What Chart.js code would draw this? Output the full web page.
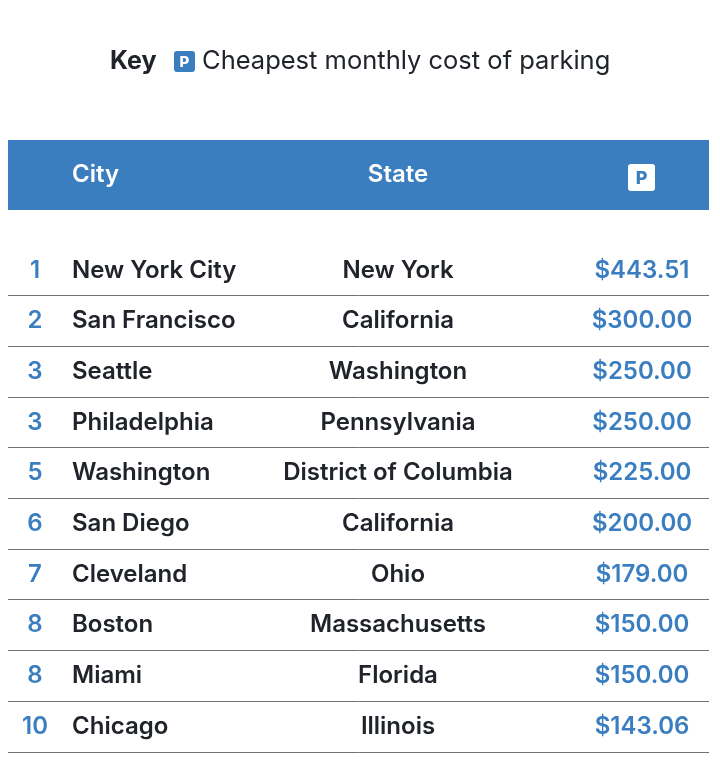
<!DOCTYPE html>
<html>
<head>
<meta charset="utf-8">
<title>Cheapest monthly cost of parking</title>
<script src="https://cdn.jsdelivr.net/npm/chart.js@4"></script>
<style>
  html, body { margin: 0; padding: 0; background: #fff; }
  #wrap { width: 720px; height: 760px; }
</style>
</head>
<body>
<div id="wrap"><canvas id="parking-table"></canvas></div>
<script>
const ranks = ['1', '2', '3', '3', '5', '6', '7', '8', '8', '10'];
const cities = ['New York City', 'San Francisco', 'Seattle', 'Philadelphia', 'Washington',
  'San Diego', 'Cleveland', 'Boston', 'Miami', 'Chicago'];
const states = ['New York', 'California', 'Washington', 'Pennsylvania', 'District of Columbia',
  'California', 'Ohio', 'Massachusetts', 'Florida', 'Illinois'];
const costs = [443.51, 300.00, 250.00, 250.00, 225.00, 200.00, 179.00, 150.00, 150.00, 143.06];
const headers = ['City', 'State'];
const keyTitle = 'Key';
const keyText = 'Cheapest monthly cost of parking';
const iconLetter = 'P';

const BLUE = '#3b7ec0';
const INK = '#20242a';
const FONT = 'Inter, "Noto Sans", sans-serif';

// column anchors, in x scale units (same as px from the table's left edge)
const colX = { rank: 27, city: 64, state: 390, cost: 634 };

function column(name, texts, align, color) {
  return {
    label: name,
    data: cities.map(c => ({ x: colX[name], y: c })),
    texts: texts,
    align: align,
    textColor: color,
    pointRadius: 0,
    showLine: false
  };
}

function parkingIcon(ctx, x, y, size, bg, fg, fontSize) {
  ctx.fillStyle = bg;
  ctx.beginPath();
  ctx.roundRect(x, y, size, size, 3);
  ctx.fill();
  ctx.fillStyle = fg;
  ctx.font = '800 ' + fontSize + 'px ' + FONT;
  ctx.textAlign = 'center';
  ctx.textBaseline = 'middle';
  ctx.fillText(iconLetter, x + size / 2, y + size / 2 + 1);
}

const tablePlugin = {
  id: 'tablePlugin',
  afterDraw(chart) {
    const ctx = chart.ctx;
    const xs = chart.scales.x;
    ctx.save();

    // key line
    ctx.fillStyle = INK;
    ctx.textBaseline = 'middle';
    ctx.textAlign = 'left';
    ctx.font = '700 25px ' + FONT;
    ctx.fillText(keyTitle, 110, 61);
    parkingIcon(ctx, 174, 51, 21, BLUE, '#fff', 15);
    ctx.fillStyle = INK;
    ctx.textAlign = 'left';
    ctx.font = '400 25.5px ' + FONT;
    ctx.fillText(keyText, 202, 61);

    // header band
    ctx.fillStyle = BLUE;
    ctx.fillRect(xs.left, 140, xs.right - xs.left, 70);
    ctx.fillStyle = '#fff';
    ctx.font = '600 24px ' + FONT;
    ctx.textAlign = 'left';
    ctx.fillText(headers[0], xs.getPixelForValue(colX.city), 175);
    ctx.textAlign = 'center';
    ctx.fillText(headers[1], xs.getPixelForValue(colX.state), 175);
    parkingIcon(ctx, xs.getPixelForValue(colX.cost) - 14, 164, 27, '#fff', BLUE, 18);

    // cells, placed on the points of each column
    chart.data.datasets.forEach((ds, i) => {
      const meta = chart.getDatasetMeta(i);
      ctx.fillStyle = ds.textColor;
      ctx.textAlign = ds.align;
      ctx.font = '600 24px ' + FONT;
      meta.data.forEach((pt, j) => {
        ctx.fillText(ds.texts[j], pt.x, pt.y);
      });
    });
    ctx.restore();
  }
};

new Chart(document.getElementById('parking-table'), {
  type: 'line',
  data: {
    labels: cities,
    datasets: [
      column('rank', ranks, 'center', BLUE),
      column('city', cities, 'left', INK),
      column('state', states, 'center', INK),
      column('cost', costs.map(v => '$' + v.toFixed(2)), 'center', BLUE)
    ]
  },
  options: {
    responsive: true,
    maintainAspectRatio: false,
    animation: false,
    layout: { padding: { top: 245, left: 8, right: 11, bottom: 8 } },
    plugins: { legend: { display: false }, tooltip: { enabled: false } },
    scales: {
      x: { type: 'linear', min: 0, max: 701, display: false },
      y: {
        type: 'category',
        labels: cities,
        offset: true,
        border: { display: false },
        ticks: { display: false },
        afterFit(scale) { scale.width = 0; },
        grid: {
          offset: true,
          drawTicks: false,
          color: ctx => ctx.index === 0 ? 'rgba(0,0,0,0)' : '#6f7274',
          lineWidth: 1
        }
      }
    }
  },
  plugins: [tablePlugin]
});
</script>
</body>
</html>
